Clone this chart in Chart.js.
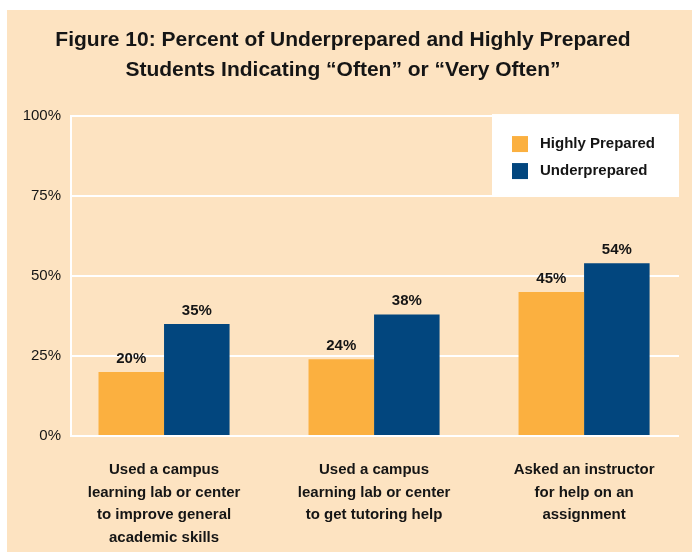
<!DOCTYPE html>
<html lang="en">
  <head>
    <meta charset="UTF-8" />
    <title>Figure 10</title>
    <script src="https://cdn.jsdelivr.net/npm/chart.js"></script>
    <style>
      body {
        margin: 0;
        background: #fff;
      }
      .chart-container {
        position: relative;
        width: 692px;
        height: 552px;
      }
    </style>
  </head>
  <body>
    <div class="chart-container">
      <canvas id="barChart"></canvas>
    </div>

    <script>
      // data
      var categories = [
        ["Used a campus", "learning lab or center", "to improve general", "academic skills"],
        ["Used a campus", "learning lab or center", "to get tutoring help"],
        ["Asked an instructor", "for help on an", "assignment"],
      ];
      var highlyPrepared = [20, 24, 45];
      var underprepared = [35, 38, 54];
      var yTicks = [0, 25, 50, 75, 100];

      var ORANGE = "#fbb040";
      var BLUE = "#02467e";
      var PEACH = "#fde3c1";
      var TEXT = "#151515";

      Chart.defaults.font.family = "'Liberation Sans', Arial, sans-serif";
      Chart.defaults.color = TEXT;

      function toPoints(values) {
        return values.map(function (v, i) {
          return { x: i, y: v };
        });
      }

      // peach panel behind everything
      var panelBackground = {
        id: "panelBackground",
        beforeDraw: function (chart) {
          var ctx = chart.ctx;
          ctx.save();
          ctx.fillStyle = PEACH;
          ctx.fillRect(7, 10, chart.width - 7, chart.height - 10);
          ctx.restore();
        },
      };

      // percent labels above the bars
      var valueLabels = {
        id: "valueLabels",
        afterDatasetsDraw: function (chart) {
          var ctx = chart.ctx;
          ctx.save();
          ctx.font = "bold 15px 'Liberation Sans', Arial, sans-serif";
          ctx.fillStyle = TEXT;
          ctx.textAlign = "center";
          ctx.textBaseline = "alphabetic";
          chart.data.datasets.forEach(function (ds, i) {
            chart.getDatasetMeta(i).data.forEach(function (bar, j) {
              ctx.fillText(ds.data[j].y + "%", bar.x, bar.y - 9);
            });
          });
          ctx.restore();
        },
      };

      // white legend box in the top right of the plot
      var boxLegend = {
        id: "boxLegend",
        afterDraw: function (chart) {
          var ctx = chart.ctx;
          var area = chart.chartArea;
          var w = 187;
          var left = area.right - w;
          var top = area.top - 2;
          ctx.save();
          ctx.fillStyle = "#fff";
          ctx.fillRect(left, top, w, 82);
          ctx.font = "bold 15px 'Liberation Sans', Arial, sans-serif";
          ctx.textBaseline = "middle";
          chart.data.datasets.forEach(function (ds, i) {
            var y = top + 22 + i * 27;
            ctx.fillStyle = ds.backgroundColor;
            ctx.fillRect(left + 20, y, 16, 16);
            ctx.fillStyle = TEXT;
            ctx.fillText(ds.label, left + 48, y + 8);
          });
          ctx.restore();
        },
      };

      new Chart(document.getElementById("barChart").getContext("2d"), {
        type: "bar",
        data: {
          datasets: [
            {
              label: "Highly Prepared",
              backgroundColor: ORANGE,
              data: toPoints(highlyPrepared),
            },
            {
              label: "Underprepared",
              backgroundColor: BLUE,
              data: toPoints(underprepared),
            },
          ],
        },
        options: {
          responsive: true,
          maintainAspectRatio: false,
          animation: false,
          categoryPercentage: 0.624,
          barPercentage: 1,
          layout: {
            padding: { left: 7, right: 13, top: 10, bottom: 0 },
          },
          plugins: {
            legend: { display: false },
            tooltip: { enabled: false },
            title: {
              display: true,
              text: [
                "Figure 10: Percent of Underprepared and Highly Prepared",
                "Students Indicating \u201cOften\u201d or \u201cVery Often\u201d",
              ],
              color: TEXT,
              font: { size: 21, weight: "bold", lineHeight: 1.43 },
              padding: { top: 15, bottom: 31 },
            },
          },
          scales: {
            x: {
              type: "linear",
              offset: false,
              min: -0.443,
              max: 2.452,
              afterBuildTicks: function (scale) {
                scale.ticks = categories.map(function (c, i) {
                  return { value: i };
                });
              },
              afterFit: function (scale) {
                scale.height = 116;
              },
              grid: { display: false, drawTicks: false, offset: false },
              border: { display: false },
              ticks: {
                padding: 23,
                maxRotation: 0,
                autoSkip: false,
                color: TEXT,
                font: { size: 15, weight: "bold", lineHeight: 1.5 },
                callback: function (v) {
                  return categories[v];
                },
              },
            },
            y: {
              min: 0,
              max: 100,
              afterBuildTicks: function (scale) {
                scale.ticks = yTicks.map(function (v) {
                  return { value: v };
                });
              },
              afterFit: function (scale) {
                scale.width = 64;
              },
              grid: { color: "#fff", lineWidth: 2, drawTicks: false },
              border: { display: true, color: "#fff", width: 2 },
              ticks: {
                padding: 10,
                color: TEXT,
                font: { size: 15 },
                callback: function (v) {
                  return v + "%";
                },
              },
            },
          },
        },
        plugins: [panelBackground, valueLabels, boxLegend],
      });
    </script>
  </body>
</html>
